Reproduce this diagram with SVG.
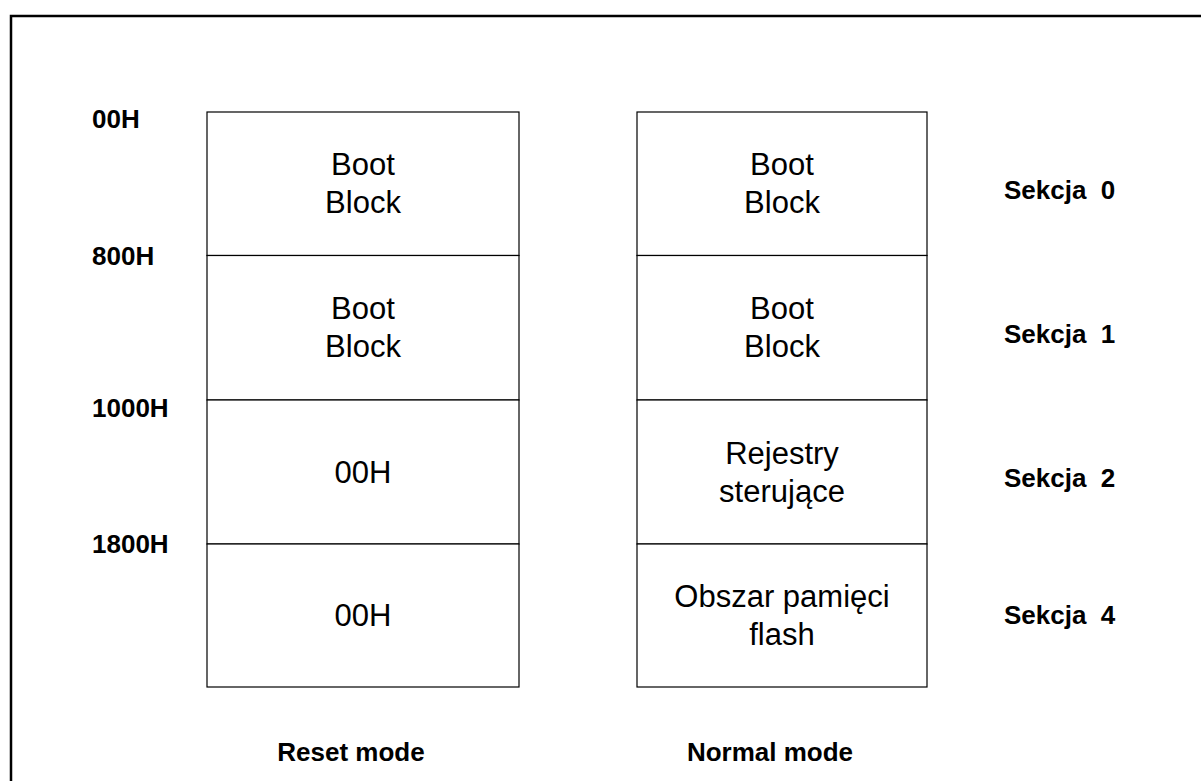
<svg xmlns="http://www.w3.org/2000/svg" width="1201" height="781" viewBox="0 0 1201 781">
<style>
.box{fill:#fff;stroke:#000;stroke-width:1.2}
.t{font-family:"Liberation Sans",Arial,sans-serif;font-size:31px;fill:#000;text-anchor:middle}
.b{font-family:"Liberation Sans",Arial,sans-serif;font-size:26px;font-weight:bold;fill:#000}
.c{text-anchor:middle}
</style>
<rect x="0" y="0" width="1201" height="781" fill="#fff"/>
<rect x="11" y="16" width="1200" height="800" fill="none" stroke="#000" stroke-width="2.5"/>
<g id="addresses">
<text class="b" x="92" y="128">00H</text>
<text class="b" x="92" y="265">800H</text>
<text class="b" x="92" y="417">1000H</text>
<text class="b" x="92" y="553">1800H</text>
</g>
<g id="reset-mode">
<g id="r0"><rect class="box" x="207" y="112" width="312" height="143.5"/><text class="t" x="363" y="175">Boot</text><text class="t" x="363" y="213">Block</text></g>
<g id="r1"><rect class="box" x="207" y="255.5" width="312" height="144.5"/><text class="t" x="363" y="319">Boot</text><text class="t" x="363" y="357">Block</text></g>
<g id="r2"><rect class="box" x="207" y="400" width="312" height="144"/><text class="t" x="363" y="483">00H</text></g>
<g id="r3"><rect class="box" x="207" y="544" width="312" height="143"/><text class="t" x="363" y="626">00H</text></g>
<text class="b c" x="351" y="761">Reset mode</text>
</g>
<g id="normal-mode">
<g id="n0"><rect class="box" x="637" y="112" width="290" height="143.5"/><text class="t" x="782" y="175">Boot</text><text class="t" x="782" y="213">Block</text></g>
<g id="n1"><rect class="box" x="637" y="255.5" width="290" height="144.5"/><text class="t" x="782" y="319">Boot</text><text class="t" x="782" y="357">Block</text></g>
<g id="n2"><rect class="box" x="637" y="400" width="290" height="144"/><text class="t" x="782" y="464">Rejestry</text><text class="t" x="782" y="502">sterujące</text></g>
<g id="n3"><rect class="box" x="637" y="544" width="290" height="143"/><text class="t" x="782" y="607">Obszar pamięci</text><text class="t" x="782" y="645">flash</text></g>
<text class="b c" x="770" y="761">Normal mode</text>
</g>
<g id="sections">
<text class="b" x="1004" y="199" xml:space="preserve">Sekcja  0</text>
<text class="b" x="1004" y="343" xml:space="preserve">Sekcja  1</text>
<text class="b" x="1004" y="487" xml:space="preserve">Sekcja  2</text>
<text class="b" x="1004" y="624" xml:space="preserve">Sekcja  4</text>
</g>
<g id="connectors"/>
</svg>
